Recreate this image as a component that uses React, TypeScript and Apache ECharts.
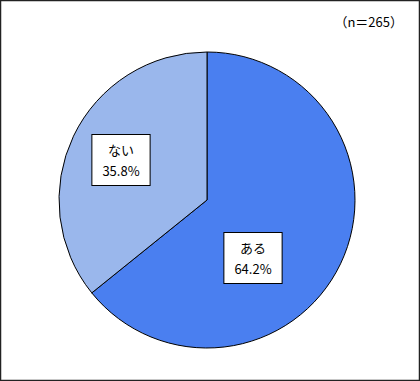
import React, { useEffect, useRef } from "react";
import * as echarts from "echarts";

const categories = ["ある", "ない"];
const percentages = [64.2, 35.8];
const sampleNote = "（n＝265）";

const sliceColors = ["#4a7ff0", "#9ab7ec"];
// label centres for each slice, in chart pixels
const labelCenters = [
  [253, 258],
  [121, 160],
];

export default function App() {
  const ref = useRef<HTMLDivElement>(null);

  useEffect(() => {
    if (!ref.current) return;
    const chart = echarts.init(ref.current, null, { renderer: "svg" });
    chart.setOption({
      animation: false,
      backgroundColor: "#ffffff",
      textStyle: { fontFamily: "'Noto Sans CJK JP', sans-serif" },
      graphic: [
        {
          type: "rect",
          shape: { x: 0.5, y: 0.5, width: 419, height: 380 },
          style: { fill: "none", stroke: "#222", lineWidth: 1.5 },
          z: 10,
        },
        {
          type: "text",
          right: 17,
          top: 15,
          style: {
            text: sampleNote,
            fill: "#000",
            fontSize: 13,
            fontFamily: "'Noto Sans CJK JP', sans-serif",
          },
        },
      ],
      series: [
        {
          type: "pie",
          center: [207, 200],
          radius: 148,
          startAngle: 90,
          clockwise: true,
          itemStyle: { borderColor: "#000", borderWidth: 1 },
          label: {
            show: true,
            position: "inside",
            formatter: "{b}\n{c}%",
            color: "#000",
            fontSize: 13,
            lineHeight: 21,
            backgroundColor: "#fff",
            borderColor: "#000",
            borderWidth: 1,
            padding: [4, 10],
            align: "center",
            verticalAlign: "middle",
          },
          labelLayout: (params: any) => {
            const c = labelCenters[params.dataIndex];
            return { x: c[0], y: c[1] };
          },
          emphasis: { disabled: true },
          data: categories.map((name, i) => ({
            name,
            value: percentages[i],
            itemStyle: { color: sliceColors[i] },
          })),
        },
      ],
    });
    return () => chart.dispose();
  }, []);

  return (
    <div
      ref={ref}
      style={{ position: "absolute", left: 0, top: 0, width: 420, height: 381 }}
    />
  );
}
